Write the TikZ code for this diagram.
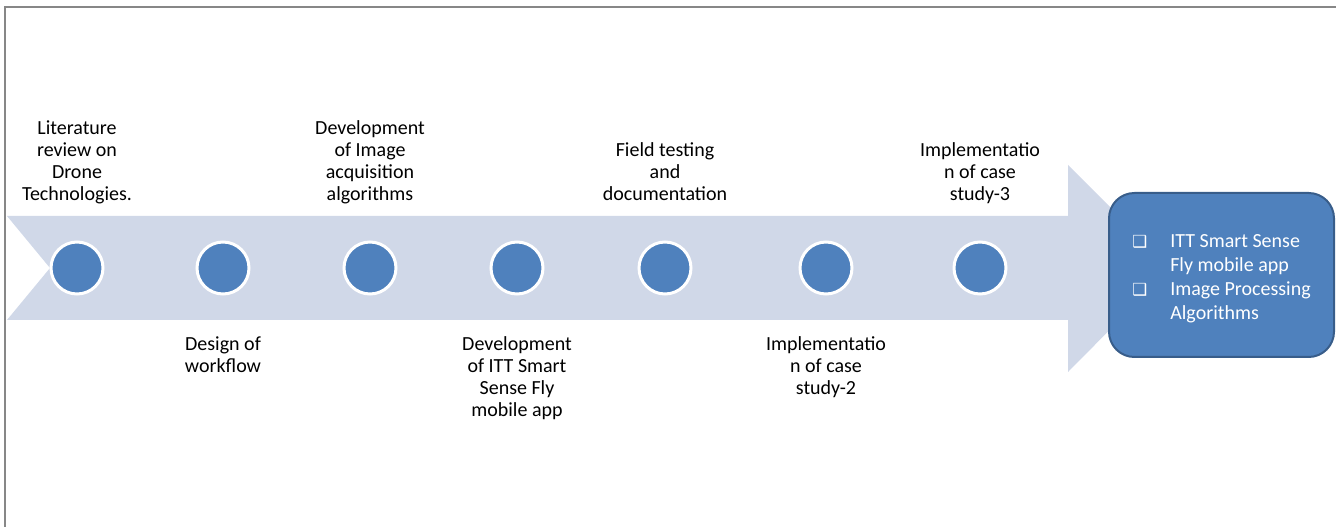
\documentclass[tikz,border=0pt]{standalone}
\usepackage{fontspec}
\setmainfont{Carlito}
\newfontfamily\symfont{DejaVu Sans}
\usetikzlibrary{positioning}

\definecolor{bande}{HTML}{D0D8E8}
\definecolor{bleu}{HTML}{4F81BD}
\definecolor{bleufonce}{HTML}{385D8A}
\definecolor{cadre}{HTML}{878787}

\newcommand{\puce}{\makebox[28.5pt][l]{\symfont\fontsize{12.5pt}{12.5pt}\selectfont ❑}}

\begin{document}
\begin{tikzpicture}[
      x=0.75pt,
      y=-0.75pt,
      dot/.style={
        circle,
        fill=bleu,
        draw=white,
        line width=2.25pt,
        minimum size=39pt,
        inner sep=0pt
      },
      toptext/.style={
        align=center,
        inner sep=0pt,
        font=\fontsize{15pt}{16.5pt}\selectfont,
        execute at end node=\strut
      },
      bottext/.style={
        align=center,
        inner sep=0pt,
        font=\fontsize{15pt}{16.5pt}\selectfont,
        execute at begin node=\strut
      },
      goal/.style={
        rounded corners=19pt,
        fill=bleu,
        draw=bleufonce,
        line width=1.5pt,
        minimum width=168.75pt,
        minimum height=123pt,
        inner sep=0pt,
        text=white,
        font=\fontsize{15pt}{18pt}\selectfont
      }
    ]
    \useasboundingbox (0,0) rectangle (1336,527) ;
    \draw[cadre, line width=1.5pt] (5,527) -- (5,7) -- (1336,7) ;

    % the big arrow
    \fill[bande] (7,216) -- (1068,216) -- (1068,165) -- (1171,268)
      -- (1068,372) -- (1068,320) -- (7,320) -- (50,268) -- cycle ;

    \node[dot] (1) at (77,268) {} ;
    \node[dot] (2) at (223,268) {} ;
    \node[dot] (3) at (370,268) {} ;
    \node[dot] (4) at (517,268) {} ;
    \node[dot] (5) at (665,268) {} ;
    \node[dot] (6) at (826,268) {} ;
    \node[dot] (7) at (980,268) {} ;

    \node[toptext, above=24.5pt of 1] {Literature\\review on\\Drone\\Technologies.} ;
    \node[toptext, above=24.5pt of 3] {Development\\of Image\\acquisition\\algorithms} ;
    \node[toptext, above=24.5pt of 5] {Field testing\\and\\documentation} ;
    \node[toptext, above=24.5pt of 7] {Implementatio\\n of case\\study-3} ;

    \node[bottext, below=30.5pt of 2] {Design of\\workflow} ;
    \node[bottext, below=30.5pt of 4] {Development\\of ITT Smart\\Sense Fly\\mobile app} ;
    \node[bottext, below=30.5pt of 6] {Implementatio\\n of case\\study-2} ;

    \node[goal] (but) at (1221.5,275) {%
      \raisebox{-3pt}[\height][\depth]{\begin{tabular}{@{}l@{}l@{}}
        \puce & ITT Smart Sense\\
              & Fly mobile app\\
        \puce & Image Processing\\
              & Algorithms
      \end{tabular}}} ;
  \end{tikzpicture}
\end{document}
